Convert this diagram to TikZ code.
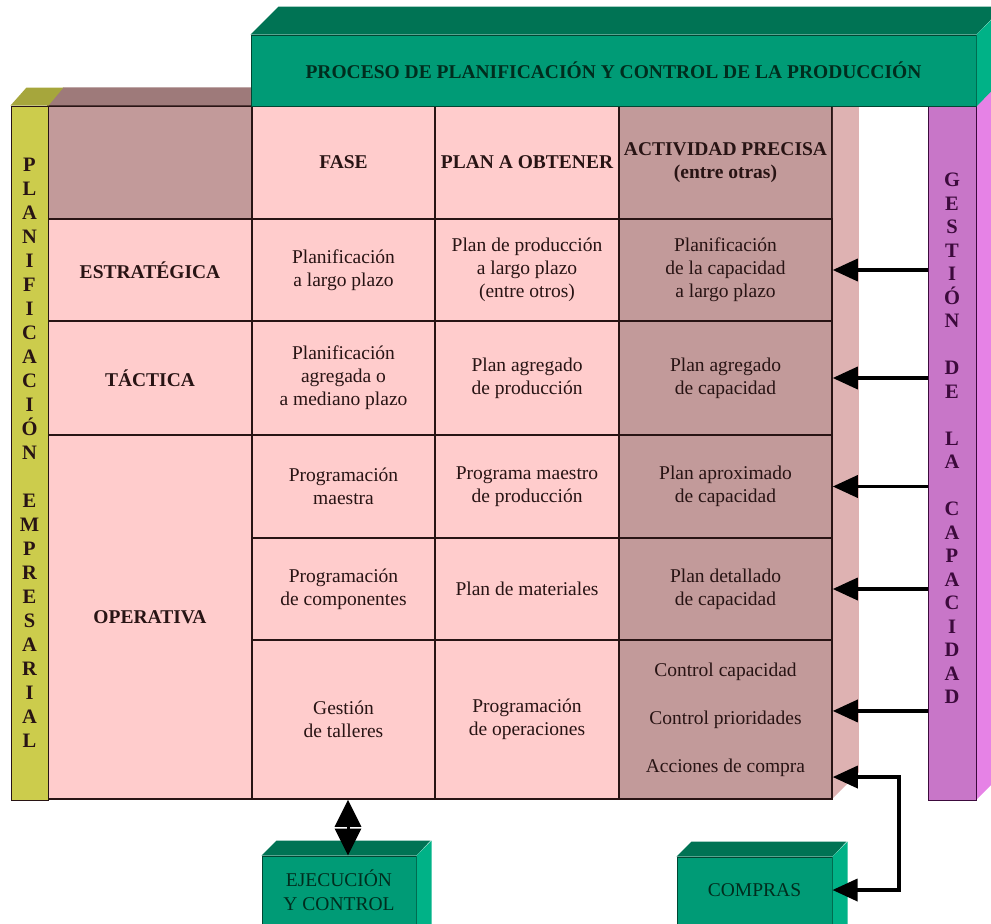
\documentclass[tikz,border=0pt]{standalone}
\usepackage{fontspec}
\setmainfont{Liberation Serif}
\usepackage{tikz}
\usetikzlibrary{positioning,arrows.meta}
\usepackage{xcolor}
\definecolor{cellpink}{RGB}{255, 204, 204}
\definecolor{cellmauve}{RGB}{194, 154, 154}
\definecolor{sidepink}{RGB}{222, 178, 178}
\definecolor{topmauve}{RGB}{158, 122, 122}
\definecolor{barolive}{RGB}{204, 204, 76}
\definecolor{topolive}{RGB}{166, 166, 60}
\definecolor{boxgreen}{RGB}{0, 155, 118}
\definecolor{topgreen}{RGB}{0, 115, 84}
\definecolor{sidegreen}{RGB}{0, 178, 135}
\definecolor{edgegreen}{RGB}{0, 70, 50}
\definecolor{barpurple}{RGB}{200, 118, 200}
\definecolor{sidepurple}{RGB}{230, 130, 230}
\definecolor{inkbrown}{RGB}{40, 20, 20}
\definecolor{inkgreen}{RGB}{0, 45, 30}
\definecolor{inkpurple}{RGB}{60, 10, 60}

\begin{document}
\begin{tikzpicture}[x=1pt, y=-1pt,
        % Node styles
        cell/.style={draw=inkbrown, fill=cellpink, line width=1.5pt, inner sep=0pt, align=center, text=inkbrown, font=\fontsize{19.5}{23}\selectfont},
        actcell/.style={cell, fill=cellmauve},
        headcell/.style={cell, font=\bfseries\fontsize{19.5}{23}\selectfont},
        levelcol/.style={minimum width=204pt},
        fasecol/.style={minimum width=183pt},
        plancol/.style={minimum width=184pt},
        actcol/.style={minimum width=213pt},
        celltext/.style={inner sep=0pt, text=inkbrown, font=\fontsize{19.5}{23}\selectfont},
        greenbox/.style={draw=edgegreen, fill=boxgreen, line width=1pt, inner sep=0pt},
        boxtext/.style={inner sep=0pt, align=center, text=inkgreen, font=\fontsize{19.5}{24}\selectfont},
        sidebar/.style={draw=inkbrown, line width=1pt, inner sep=0pt},
        letters/.style={inner sep=0pt, align=center, font=\bfseries\fontsize{20.5}{24}\selectfont},
        caparrow/.style={-{Triangle[length=25pt, width=22pt]}, line width=3.5pt, black},
        comparrow/.style={{Triangle[length=25pt, width=22pt]}-{Triangle[length=25pt, width=22pt]}, line width=3.5pt, black},
        dblarrow/.style={{Triangle[length=27pt, width=26pt]}-{Triangle[length=27pt, width=26pt]}, line width=3pt, black}
    ]
    \useasboundingbox (0,0) rectangle (991,924);
    \clip (0,0) rectangle (991,924);

    % Header row
    \node[actcell, levelcol, minimum height=113pt] (corner) at (150,162.5) {};
    \node[headcell, fasecol, minimum height=113pt] (hfase) at (343.5,162.5) {FASE};
    \node[headcell, plancol, minimum height=113pt] (hplan) at (527,162.5) {PLAN A OBTENER};
    \node[headcell, actcol, fill=cellmauve, minimum height=113pt] (hact) at (725.5,162.5) {ACTIVIDAD PRECISA\\(entre otras)};

    % Table side and top faces
    \fill[sidepink] (hact.north east) -- ++(26,-26) -- ++(0,693) -- ++(-26,26) -- cycle;
    \fill[topmauve] (corner.north west) -- ++(16,-18) -- ++(204,0) -- (corner.north east) -- cycle;

    % Strategic level
    \node[headcell, levelcol, minimum height=102pt] (estr) at (150,270) {ESTRATÉGICA};
    \node[cell, fasecol, minimum height=102pt] (fase1) at (343.5,270) {Planificación\\a largo plazo};
    \node[cell, plancol, minimum height=102pt] (plan1) at (527,270) {Plan de producción\\a largo plazo\\(entre otros)};
    \node[actcell, actcol, minimum height=102pt] (act1) at (725.5,270) {Planificación\\de la capacidad\\a largo plazo};

    % Tactical level
    \node[headcell, levelcol, minimum height=114pt] (tact) at (150,378) {TÁCTICA};
    \node[cell, fasecol, minimum height=114pt] (fase2) at (343.5,378) {Planificación\\agregada o\\a mediano plazo};
    \node[cell, plancol, minimum height=114pt] (plan2) at (527,378) {Plan agregado\\de producción};
    \node[actcell, actcol, minimum height=114pt] (act2) at (725.5,378) {Plan agregado\\de capacidad};

    % Operative level
    \node[headcell, levelcol, minimum height=364pt] (oper) at (150,617) {OPERATIVA};
    \node[cell, fasecol, minimum height=103pt] (fase3) at (343.5,486.5) {Programación\\maestra};
    \node[cell, plancol, minimum height=103pt] (plan3) at (527,486.5) {Programa maestro\\de producción};
    \node[actcell, actcol, minimum height=103pt] (act3) at (725.5,486.5) {Plan aproximado\\de capacidad};
    \node[cell, fasecol, minimum height=102pt] (fase4) at (343.5,589) {Programación\\de componentes};
    \node[cell, plancol, minimum height=102pt] (plan4) at (527,589) {Plan de materiales};
    \node[actcell, actcol, minimum height=102pt] (act4) at (725.5,589) {Plan detallado\\de capacidad};
    \node[cell, fasecol, minimum height=159pt] (fase5) at (343.5,719.5) {Gestión\\de talleres};
    \node[cell, plancol, minimum height=159pt] (plan5) at (527,719.5) {Programación\\de operaciones};
    \node[actcell, actcol, minimum height=159pt] (act5) at (725.5,719.5) {};
    \node[celltext] (capac) at (725.5,672) {Control capacidad};
    \node[celltext] (prio) at (725.5,720) {Control prioridades};
    \node[celltext] (acc) at (725.5,768) {Acciones de compra};

    % Planificacion empresarial bar
    \node[sidebar, letters, fill=barolive, text=inkbrown, minimum width=37pt, minimum height=694pt] (planemp) at (29.5,453)
        {P\\L\\A\\N\\I\\F\\I\\C\\A\\C\\I\\Ó\\N\\[24pt]E\\M\\P\\R\\E\\S\\A\\R\\I\\A\\L};
    \fill[topolive] (planemp.north west) -- ++(16,-18) -- ++(37,0) -- (planemp.north east) -- cycle;

    % Gestion de la capacidad bar
    \fill[sidepurple] (976,106) -- ++(28,-28) -- ++(0,694) -- ++(-28,28) -- cycle;
    \node[sidebar, draw=inkpurple, fill=barpurple, minimum width=48pt, minimum height=694pt] (gestion) at (952,453) {};
    \node[letters, text=inkpurple, font=\bfseries\fontsize{20.5}{23.5}\selectfont] (gestlet) at (952,438.5)
        {G\\E\\S\\T\\I\\Ó\\N\\[23.5pt]D\\E\\[23.5pt]L\\A\\[23.5pt]C\\A\\P\\A\\C\\I\\D\\A\\D};

    % Process box
    \node[greenbox, minimum width=725pt, minimum height=71pt, text=inkgreen, font=\bfseries\fontsize{19.5}{23}\selectfont] (proceso) at (613.5,70.5)
        {PROCESO DE PLANIFICACIÓN Y CONTROL DE LA PRODUCCIÓN};
    \fill[topgreen] (proceso.north west) -- ++(28,-28) -- ++(725,0) -- (proceso.north east) -- cycle;
    \fill[sidegreen] (proceso.north east) -- ++(28,-28) -- ++(0,71) -- (proceso.south east) -- cycle;

    % Execution and purchasing boxes
    \node[greenbox, minimum width=154pt, minimum height=84pt] (ejec) at (339,898) {};
    \fill[topgreen] (ejec.north west) -- ++(15,-15) -- ++(154,0) -- (ejec.north east) -- cycle;
    \fill[sidegreen] (ejec.north east) -- ++(15,-15) -- ++(0,84) -- (ejec.south east) -- cycle;
    \node[boxtext] (ejectxt) at (339,890) {EJECUCIÓN\\Y CONTROL};
    \node[greenbox, minimum width=155pt, minimum height=84pt] (compras) at (754.5,899) {};
    \fill[topgreen] (compras.north west) -- ++(15,-15) -- ++(155,0) -- (compras.north east) -- cycle;
    \fill[sidegreen] (compras.north east) -- ++(15,-15) -- ++(0,84) -- (compras.south east) -- cycle;
    \node[boxtext] (compratxt) at (754.5,890) {COMPRAS};

    % Capacity arrows
    \draw[caparrow] (gestion.west |- act1.east) -- (act1.east);
    \draw[caparrow] (gestion.west |- act2.east) -- (act2.east);
    \draw[caparrow] (gestion.west |- act3.east) -- (act3.east);
    \draw[caparrow] (gestion.west |- act4.east) -- (act4.east);
    \draw[caparrow] (gestion.west |- prio.north) -- (act5.east |- prio.north);

    % Purchasing and execution links
    \draw[comparrow] (act5.east |- acc.south) -- ++(66,0) |- (compras.east |- compratxt);
    \draw[dblarrow] ([xshift=4.5pt]fase5.south) -- ([xshift=4.5pt]fase5.south |- ejec.north);

    \end{tikzpicture}
\end{document}
